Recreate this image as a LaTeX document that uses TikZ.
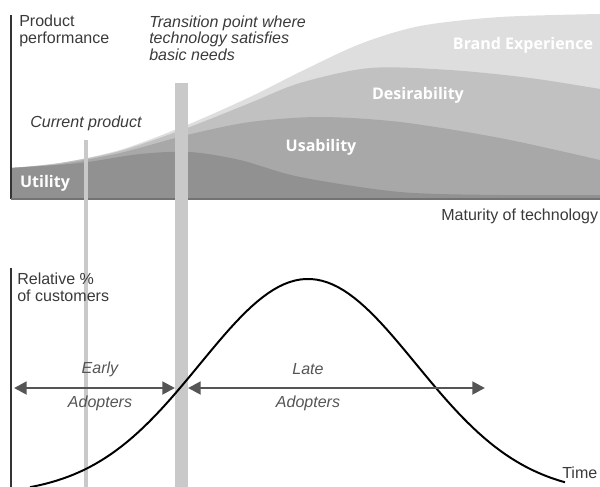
\documentclass[tikz,border=0pt]{standalone}
\usepackage{fontspec}
\setmainfont{Liberation Sans}
\newfontfamily\bandfont{Open Sans}
\usetikzlibrary{arrows.meta}

\definecolor{axisgray}{HTML}{333333}
\definecolor{textgray}{HTML}{3A3A3A}
\definecolor{arrowgray}{HTML}{555555}
\definecolor{barfill}{HTML}{C9C9C9}
\definecolor{brandfill}{HTML}{DEDEDE}
\definecolor{desirefill}{HTML}{C1C1C1}
\definecolor{usefill}{HTML}{A8A8A8}
\definecolor{utilfill}{HTML}{919191}

\tikzset{
  axisline/.style={line width=0.8pt, color=axisgray},
  plain/.style={font=\fontsize{11.4}{11.8}\selectfont, text=textgray, inner sep=0pt, align=left},
  slanted/.style={plain, font=\fontsize{11.4}{11.8}\selectfont\itshape},
  band/.style={font=\bandfont\bfseries\fontsize{11.4}{12}\selectfont, text=white, inner sep=0pt},
  adopt/.style={line width=2pt, color=arrowgray, {Triangle[length=9pt,width=9pt]}-{Triangle[length=9pt,width=9pt]}},
  curve/.style={line width=1.4pt, black},
}

\begin{document}
\begin{tikzpicture}[x=0.025cm, y=-0.025cm]
			%%%%% START %%%%%
			\useasboundingbox (0, 0) rectangle (600, 487);
			
			% stacked bands, lightest first
			\fill[brandfill] (11, 199) -- plot[smooth] coordinates {(11, 168) (60, 163) (120, 150) (187, 125) (250, 97) (300, 72) (360, 44) (420, 26) (500, 17) (600, 14)} -- (600, 199) -- cycle;
			\fill[desirefill] (11, 199) -- plot[smooth] coordinates {(11, 168) (60, 163) (120, 151) (187, 128) (250, 103) (300, 83) (370, 68) (450, 70) (530, 78) (600, 89)} -- (600, 199) -- cycle;
			\fill[usefill] (11, 199) -- plot[smooth] coordinates {(11, 168) (60, 164) (120, 153) (187, 135) (250, 122) (320, 117) (400, 122) (500, 138) (600, 160)} -- (600, 199) -- cycle;
			\fill[utilfill] (11, 199) -- plot[smooth] coordinates {(11, 168) (80, 163) (140, 154) (190, 152) (240, 160) (300, 177) (400, 192) (500, 195) (600, 195)} -- (600, 199) -- cycle;
			
			\node[band] (utility) at (45, 183) {Utility};
			\node[band] (usability) at (321, 147) {Usability};
			\node[band] (desirability) at (418, 95) {Desirability};
			\node[band] (brand) at (523, 45) {Brand Experience};
			
			% axes
			\draw[axisline] (11, 15) -- (11, 199);
			\draw[line width=1pt, color=black!55] (11, 199) -- (600, 199);
			\draw[axisline] (11, 268) -- (11, 487);
			
			% marker bars
			\fill[barfill] (84, 140) rectangle (88, 487);
			\fill[barfill] (175, 83) rectangle (188, 487);
			
			% adoption curve
			\draw[curve] plot[domain=30:565, samples=100] (\x, {495 - 216*exp(-((\x - 308)/108)^2/2)});
			
			% labels
			\node[plain, anchor=west] (perf) at (19, 31) {Product\\performance};
			\node[slanted, anchor=west] (transition) at (149, 38) {Transition point where\\technology satisfies\\basic needs};
			\node[slanted, anchor=west] (current) at (30, 123) {Current product};
			\node[plain, anchor=west] (maturity) at (441, 216) {Maturity of technology};
			\node[plain, anchor=west] (relative) at (17, 287) {Relative \%\\of customers};
			\node[plain, anchor=west] (time) at (562, 473) {Time};
			
			% adopter arrows
			\coordinate (earlyL) at (14, 388);
			\coordinate (earlyR) at (175, 388);
			\coordinate (lateL) at (188, 388);
			\coordinate (lateR) at (485, 388);
			\draw[adopt] (earlyL) -- (earlyR);
			\draw[adopt] (lateL) -- (lateR);
			
			\node[slanted, text=arrowgray] (early) at (100, 369) {Early};
			\node[slanted, text=arrowgray] (earlyadopt) at (100, 403) {Adopters};
			\node[slanted, text=arrowgray] (late) at (308, 369) {Late};
			\node[slanted, text=arrowgray] (lateadopt) at (308, 403) {Adopters};
			
			%%%%% END %%%%%
\end{tikzpicture}
\end{document}
